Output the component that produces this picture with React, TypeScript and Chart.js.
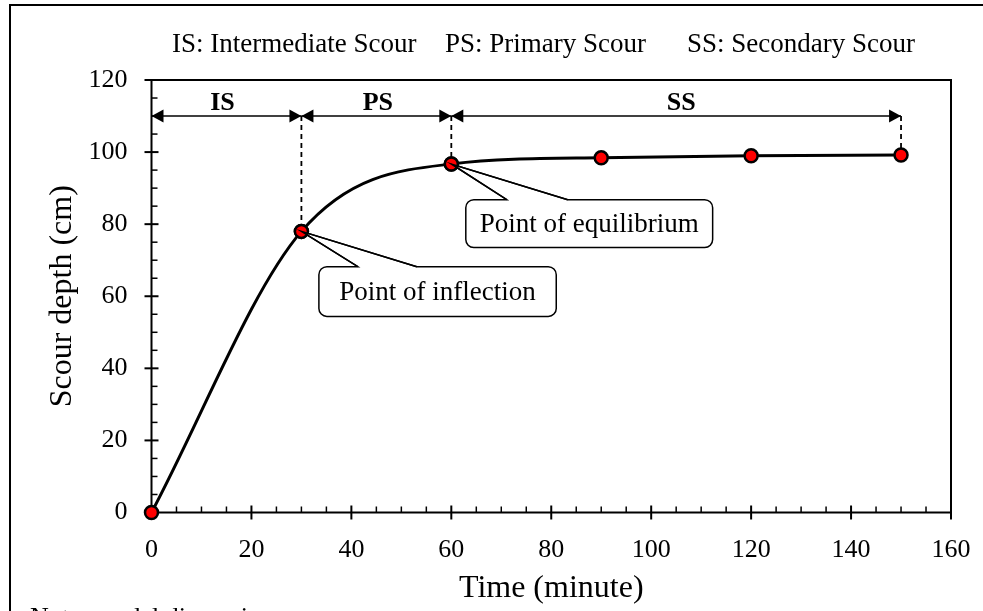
import React, { useEffect, useRef } from "react";
import { Chart, registerables } from "chart.js";

Chart.register(...registerables);

// ---- data ----
const timeMinutes = [0, 30, 60, 90, 120, 150];
const scourDepthCm = [0, 78, 96.7, 98.4, 99, 99.2];

const xAxisTitle = "Time (minute)";
const yAxisTitle = "Scour depth (cm)";
const headerTexts = ["IS: Intermediate Scour", "PS: Primary Scour", "SS: Secondary Scour"];
const phaseLabels = ["IS", "PS", "SS"];
const phaseBounds = [0, 30, 60, 150];
const phaseArrowLevel = 110;
const inflectionText = "Point of inflection";
const equilibriumText = "Point of equilibrium";
const noteText = "Note: model dimensions";

// ---- layout / style constants (not data) ----
const SERIF = "'Liberation Serif', 'Times New Roman', serif";
const MARKER_R = 6.5;
const headerX = [172, 445, 687];
const phaseLabelX = [14.2, 45.3, 106];
const callouts = [
  { text: inflectionText, tip: 1, box: [33.5, 81, 68.2, 54.4], gap: [41.3, 53.1] },
  { text: equilibriumText, tip: 2, box: [62.9, 112.3, 86.8, 73.5], gap: [71.1, 83.3] },
];

const overlayPlugin = {
  id: "overlay",
  beforeDatasetsDraw(chart: any) {
    const ctx = chart.ctx;
    const xs = chart.scales.x;
    const ys = chart.scales.y;
    const a = chart.chartArea;
    const px = (v: number) => xs.getPixelForValue(v);
    const py = (v: number) => ys.getPixelForValue(v);
    ctx.save();
    // plot frame
    ctx.strokeStyle = "#000";
    ctx.lineWidth = 2;
    ctx.strokeRect(a.left, a.top, a.right - a.left, a.bottom - a.top);
    // ticks
    for (let v = 0; v <= 160; v += 5) {
      const x = px(v);
      ctx.beginPath();
      if (v % 20 === 0) {
        ctx.lineWidth = 2;
        ctx.moveTo(x, a.bottom - 7);
        ctx.lineTo(x, a.bottom + 7);
      } else {
        ctx.lineWidth = 1.5;
        ctx.moveTo(x, a.bottom - 6);
        ctx.lineTo(x, a.bottom);
      }
      ctx.stroke();
    }
    for (let v = 0; v <= 120; v += 5) {
      const y = py(v);
      ctx.beginPath();
      if (v % 20 === 0) {
        ctx.lineWidth = 2;
        ctx.moveTo(a.left - 7, y);
        ctx.lineTo(a.left + 7, y);
      } else {
        ctx.lineWidth = 1.5;
        ctx.moveTo(a.left, y);
        ctx.lineTo(a.left + 6, y);
      }
      ctx.stroke();
    }
    // dashed verticals
    ctx.setLineDash([5, 4]);
    ctx.lineWidth = 1.8;
    [1, 2, 5].forEach((i) => {
      ctx.beginPath();
      ctx.moveTo(px(timeMinutes[i]), py(phaseArrowLevel));
      ctx.lineTo(px(timeMinutes[i]), py(scourDepthCm[i]));
      ctx.stroke();
    });
    ctx.setLineDash([]);
    // phase arrows
    const ay = py(phaseArrowLevel);
    const head = (x: number, dir: number) => {
      ctx.beginPath();
      ctx.moveTo(x, ay);
      ctx.lineTo(x - dir * 12, ay - 6.5);
      ctx.lineTo(x - dir * 12, ay + 6.5);
      ctx.closePath();
      ctx.fill();
    };
    ctx.fillStyle = "#000";
    ctx.lineWidth = 1.5;
    for (let i = 0; i < phaseBounds.length - 1; i++) {
      const x0 = px(phaseBounds[i]);
      const x1 = px(phaseBounds[i + 1]);
      ctx.beginPath();
      ctx.moveTo(x0, ay);
      ctx.lineTo(x1, ay);
      ctx.stroke();
      head(x0, -1);
      head(x1, 1);
      ctx.font = `bold 26px ${SERIF}`;
      ctx.textAlign = "center";
      ctx.textBaseline = "alphabetic";
      ctx.fillText(phaseLabels[i], px(phaseLabelX[i]), ay - 6);
    }
    ctx.restore();
  },
  afterDraw(chart: any) {
    const ctx = chart.ctx;
    const xs = chart.scales.x;
    const ys = chart.scales.y;
    const a = chart.chartArea;
    const px = (v: number) => xs.getPixelForValue(v);
    const py = (v: number) => ys.getPixelForValue(v);
    ctx.save();
    // outer border (right/bottom beyond the picture)
    ctx.strokeStyle = "#000";
    ctx.lineWidth = 2;
    ctx.strokeRect(10, 5, 1000, 700);
    // header
    ctx.fillStyle = "#000";
    ctx.font = `27px ${SERIF}`;
    ctx.textAlign = "left";
    ctx.textBaseline = "middle";
    headerTexts.forEach((t, i) => ctx.fillText(t, headerX[i], 45));
    // axis titles
    ctx.font = `32px ${SERIF}`;
    ctx.textAlign = "center";
    ctx.fillText(xAxisTitle, (a.left + a.right) / 2, 589);
    ctx.save();
    ctx.translate(63, (a.top + a.bottom) / 2);
    ctx.rotate(-Math.PI / 2);
    ctx.fillText(yAxisTitle, 0, 0);
    ctx.restore();
    // callouts
    callouts.forEach((c) => {
      const l = px(c.box[0]);
      const r = px(c.box[1]);
      const t = py(c.box[2]);
      const b = py(c.box[3]);
      const g0 = px(c.gap[0]);
      const g1 = px(c.gap[1]);
      const tx = px(timeMinutes[c.tip]);
      const ty = py(scourDepthCm[c.tip]);
      const rad = 8;
      ctx.beginPath();
      ctx.moveTo(l + rad, t);
      ctx.lineTo(g0, t);
      ctx.lineTo(tx, ty);
      ctx.lineTo(g1, t);
      ctx.lineTo(r - rad, t);
      ctx.arcTo(r, t, r, t + rad, rad);
      ctx.lineTo(r, b - rad);
      ctx.arcTo(r, b, r - rad, b, rad);
      ctx.lineTo(l + rad, b);
      ctx.arcTo(l, b, l, b - rad, rad);
      ctx.lineTo(l, t + rad);
      ctx.arcTo(l, t, l + rad, t, rad);
      ctx.closePath();
      ctx.fillStyle = "#fff";
      ctx.fill();
      ctx.lineWidth = 1.5;
      ctx.strokeStyle = "#000";
      ctx.stroke();
      ctx.fillStyle = "#000";
      ctx.font = `27px ${SERIF}`;
      ctx.textAlign = "center";
      ctx.textBaseline = "middle";
      ctx.fillText(c.text, (l + r) / 2, (t + b) / 2 + 1);
    });
    // re-draw the two markers under the callout tips
    const meta = chart.getDatasetMeta(0);
    [1, 2].forEach((i) => {
      const p = meta.data[i];
      ctx.beginPath();
      ctx.arc(p.x, p.y, MARKER_R, 0, Math.PI * 2);
      ctx.fillStyle = "#ff0000";
      ctx.fill();
      ctx.lineWidth = 2.5;
      ctx.strokeStyle = "#000";
      ctx.stroke();
    });
    callouts.forEach((c) => {
      const tx = px(timeMinutes[c.tip]);
      const ty = py(scourDepthCm[c.tip]);
      ctx.beginPath();
      ctx.moveTo(px(c.gap[0]), py(c.box[2]));
      ctx.lineTo(tx, ty);
      ctx.lineTo(px(c.gap[1]), py(c.box[2]));
      ctx.lineWidth = 1.5;
      ctx.stroke();
    });
    // cut-off note at bottom
    ctx.fillStyle = "#000";
    ctx.font = `26px ${SERIF}`;
    ctx.textAlign = "left";
    ctx.textBaseline = "alphabetic";
    ctx.fillText(noteText, 30, 625);
    ctx.restore();
  },
};

export default function App() {
  const ref = useRef<HTMLCanvasElement | null>(null);
  useEffect(() => {
    if (!ref.current) return;
    const chart = new Chart(ref.current, {
      type: "line",
      data: {
        datasets: [
          {
            data: timeMinutes.map((t, i) => ({ x: t, y: scourDepthCm[i] })),
            borderColor: "#000",
            borderWidth: 3,
            cubicInterpolationMode: "monotone",
            tension: 0.4,
            pointRadius: MARKER_R,
            pointBorderWidth: 2.5,
            pointBackgroundColor: "#ff0000",
            pointBorderColor: "#000",
            clip: false as any,
          },
        ],
      },
      options: {
        animation: false,
        responsive: false,
        maintainAspectRatio: false,
        events: [],
        layout: { padding: { top: 80, right: 32, left: 0, bottom: 0 } },
        plugins: { legend: { display: false }, tooltip: { enabled: false }, title: { display: false } },
        scales: {
          x: {
            type: "linear",
            min: 0,
            max: 160,
            ticks: { stepSize: 20, color: "#000", font: { family: SERIF, size: 26 }, padding: 22, maxRotation: 0 },
            grid: { display: false, drawTicks: false },
            border: { display: false },
            afterFit: (s: any) => {
              s.height = 98.5;
              s.paddingLeft = 0;
              s.paddingRight = 0;
            },
          },
          y: {
            type: "linear",
            min: 0,
            max: 120,
            ticks: { stepSize: 20, color: "#000", font: { family: SERIF, size: 26 }, padding: 24 },
            grid: { display: false, drawTicks: false },
            border: { display: false },
            afterFit: (s: any) => {
              s.width = 151.5;
              s.paddingTop = 0;
              s.paddingBottom = 0;
            },
          },
        },
      },
      plugins: [overlayPlugin],
    });
    return () => chart.destroy();
  }, []);
  return (
    <div style={{ position: "fixed", left: 0, top: 0, width: 983, height: 611, background: "#fff" }}>
      <canvas ref={ref} width={983} height={611} style={{ display: "block" }} />
    </div>
  );
}
